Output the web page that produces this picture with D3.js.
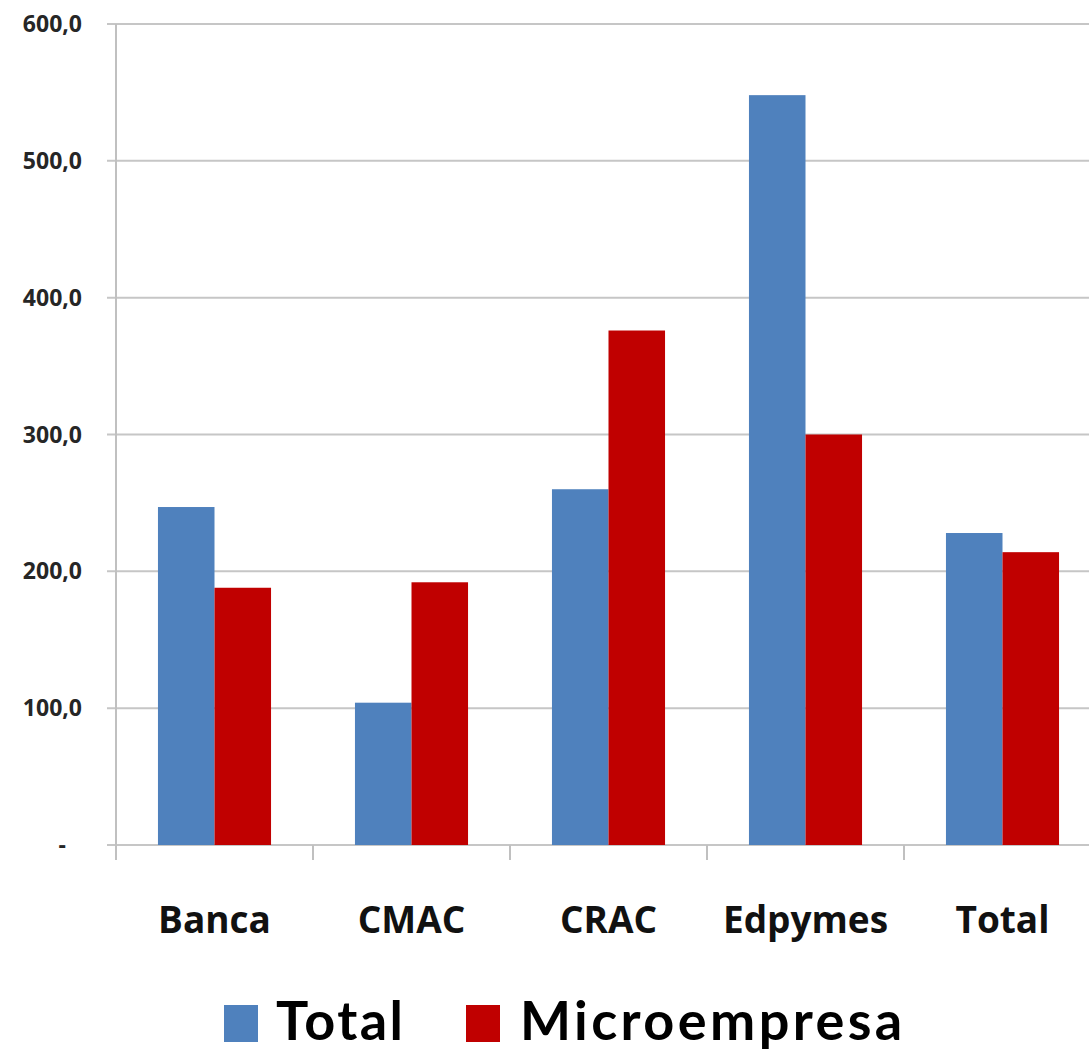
<!DOCTYPE html>
<html><head><meta charset="utf-8">
<script src="https://cdn.jsdelivr.net/npm/d3@7"></script>
<style>body{margin:0;background:#fff}svg{display:block}</style>
</head><body>
<svg id="c" width="1089" height="1052"></svg>
<script>
const categories = ["Banca","CMAC","CRAC","Edpymes","Total"];
const seriesNames = ["Total","Microempresa"];
const totalValues = [247, 104, 260, 548, 228];
const microValues = [188, 192, 376, 300, 214];
const yTicks = [0,100,200,300,400,500,600];
const colors = ["#4F81BD","#C00000"];

const svg = d3.select("#c");
const padL = 116, padT = 24, padB = 845, step = 197;
const x = d3.scaleBand().domain(categories).range([padL, padL + step*categories.length]).paddingInner(0.426).paddingOuter(0.213);
const xs = d3.scaleBand().domain(seriesNames).range([0, x.bandwidth()]);
const y = d3.scaleLinear().domain([0,600]).range([padB, padT]);

// gridlines
svg.append("g").selectAll("line").data(yTicks).join("line")
  .attr("x1", padL-9).attr("x2", 1089).attr("y1", d=>y(d)).attr("y2", d=>y(d))
  .attr("stroke", "#c6c6c6").attr("stroke-width", 2);

// y axis line
svg.append("line").attr("x1", padL).attr("x2", padL).attr("y1", padT).attr("y2", padB+15)
  .attr("stroke", "#c0c0c0").attr("stroke-width", 2);

// x ticks
svg.append("g").selectAll("line").data(d3.range(1, categories.length+1)).join("line")
  .attr("x1", i=>padL+i*step).attr("x2", i=>padL+i*step).attr("y1", padB).attr("y2", padB+15)
  .attr("stroke", "#c0c0c0").attr("stroke-width", 2);

// y labels
svg.append("g").selectAll("text").data(yTicks).join("text")
  .attr("x", d => d===0 ? 66 : 82).attr("y", d=>y(d)).attr("dy", "0.35em")
  .attr("text-anchor", "end")
  .attr("font-family", "'Open Sans', Lato, sans-serif").attr("font-weight", "bold")
  .attr("font-size", 23).attr("fill", "#262626")
  .text(d => d===0 ? "-" : d3.format(".1f")(d).replace(".", ","));

// bars
const data = categories.map((c,i)=>({c, vals:[totalValues[i], microValues[i]]}));
const g = svg.append("g").selectAll("g").data(data).join("g")
  .attr("transform", d=>`translate(${x(d.c)},0)`);
g.selectAll("rect").data(d=>d.vals.map((v,j)=>({v, s:seriesNames[j], j}))).join("rect")
  .attr("x", d=>xs(d.s)).attr("width", xs.bandwidth())
  .attr("y", d=>y(d.v)).attr("height", d=>y(0)-y(d.v))
  .attr("fill", d=>colors[d.j]);

// category labels
svg.append("g").selectAll("text").data(categories).join("text")
  .attr("x", d=>x(d)+x.bandwidth()/2).attr("y", 933)
  .attr("text-anchor", "middle")
  .attr("font-family", "'Open Sans', Lato, sans-serif").attr("font-weight", "bold")
  .attr("font-size", 37).attr("fill", "#111")
  .text(d=>d);

// legend
const legend = [{name:seriesNames[0], sx:224, tx:276, ls:2.4},{name:seriesNames[1], sx:466, tx:520, ls:3.4}];
const lg = svg.append("g").selectAll("g").data(legend).join("g");
lg.append("rect").attr("x", d=>d.sx).attr("y", 1005).attr("width", 34).attr("height", 37)
  .attr("fill", (d,i)=>colors[i]);
lg.append("text").attr("x", d=>d.tx).attr("y", 1040)
  .attr("font-family", "Lato, 'Open Sans', sans-serif").attr("font-weight", "bold")
  .attr("font-size", 54).attr("letter-spacing", d=>d.ls).attr("fill", "#000")
  .text(d=>d.name);
</script>
</body></html>
